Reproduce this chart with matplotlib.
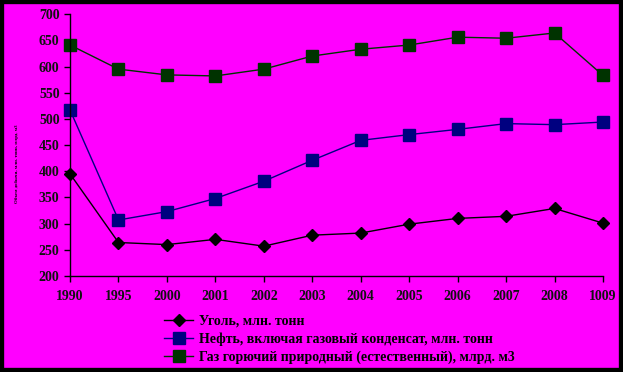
import numpy as np
import matplotlib.pyplot as plt
from matplotlib.patches import Rectangle

years = ['1990', '1995', '2000', '2001', '2002', '2003', '2004',
         '2005', '2006', '2007', '2008', '1009']
coal = [395, 264, 260, 270, 257, 278, 282, 299, 310, 314, 329, 301]
oil = [517, 307, 323, 348, 381, 421, 459, 470, 480, 491, 489, 494]
gas = [641, 595, 584, 582, 595, 620, 633, 641, 656, 654, 664, 583]

labels = ['Уголь, млн. тонн',
          'Нефть, включая газовый конденсат, млн. тонн',
          'Газ горючий природный (естественный), млрд. м3']

bg = '#ff00ff'
plt.rcParams['font.family'] = ['Liberation Serif', 'DejaVu Serif']

fig = plt.figure(figsize=(6.23, 3.72), dpi=100, facecolor=bg)
# black frame around the picture
fig.patches.append(Rectangle((0, 0), 1, 1, transform=fig.transFigure,
                             fill=False, edgecolor='black', linewidth=6,
                             zorder=10))

ax = fig.add_axes([0.1124, 0.258, 0.8555, 0.704])
ax.set_facecolor(bg)
x = np.arange(len(years))

ax.plot(x, coal, color='black', lw=1, marker='D', ms=6,
        mfc='black', mec='black', label=labels[0], clip_on=False)
ax.plot(x, oil, color='#000080', lw=1, marker='s', ms=9,
        mfc='#000080', mec='#000080', label=labels[1], clip_on=False)
ax.plot(x, gas, color='#003300', lw=1, marker='s', ms=9,
        mfc='#003300', mec='#003300', label=labels[2], clip_on=False)

ax.set_xlim(0, len(years) - 1)
ax.set_ylim(200, 700)
ax.set_yticks(range(200, 701, 50))
ax.set_xticks(x)
ax.set_xticklabels(years)
for s in ['top', 'right']:
    ax.spines[s].set_visible(False)
for s in ['left', 'bottom']:
    ax.spines[s].set_linewidth(1)
ax.tick_params(axis='both', direction='out', length=4, width=1,
               labelsize=10, colors='black')
ax.tick_params(axis='x', pad=6)
for t in ax.get_xticklabels() + ax.get_yticklabels():
    t.set_fontweight('bold')
    t.set_color('#111111')

fig.text(0.027, 0.56, 'Объем добычи, млн. тонн, млрд. м3', rotation=90,
         fontsize=3.5, fontweight='bold', ha='center', va='center')

leg = fig.legend(loc='upper left', bbox_to_anchor=(0.252, 0.172),
                 frameon=False, handlelength=2.1,
                 labelspacing=0.32, borderpad=0, handletextpad=0.45,
                 prop={'weight': 'bold', 'size': 10})

fig.savefig('out.png', dpi=100, facecolor=bg)
